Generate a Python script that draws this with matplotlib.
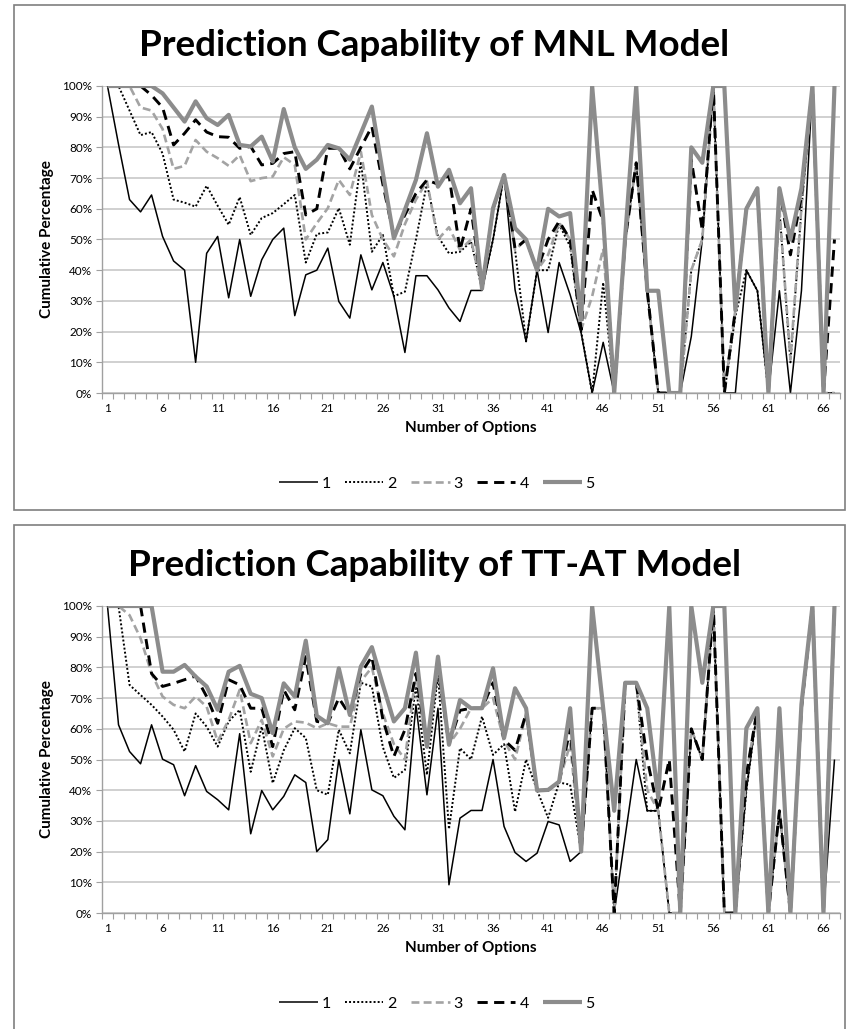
import matplotlib
matplotlib.use('Agg')
import matplotlib.pyplot as plt
from matplotlib.patches import Rectangle
from matplotlib.ticker import FixedLocator, FuncFormatter
import numpy as np

plt.rcParams['font.family'] = ['Lato', 'DejaVu Sans']

options = list(range(1, 68))
series_names = ['1', '2', '3', '4', '5']

# cumulative percentage of correct predictions within the top-k options (MNL)
mnl_1 = [100, 81, 63, 59, 64.5, 51, 43, 40, 10, 45.5, 51, 31, 50, 31.5, 43.4, 50, 53.7,
         25.2, 38.5, 40, 47.2, 29.8, 24.4, 45, 33.6, 42.5, 31.5, 13.2, 38.2, 38.2, 33.6, 27.7, 23.3,
         33.4, 33.4, 50, 71, 33.6, 16.8, 40, 19.7, 42.5, 32, 19.5, 0, 16.5, 0, 50, 75,
         33.3, 0, 0, 0, 18.4, 50, 100, 0, 0, 40, 33.3, 0, 33.3, 0, 33.3, 100, 0, 0]
mnl_2 = [100, 100, 92, 84, 85, 78, 63, 62, 60.7, 67.5, 61, 54.8, 63.8, 51.5, 57, 58.6, 61.5,
         64.5, 42.5, 51.8, 52.3, 60.2, 48.3, 75.4, 46, 51.5, 31.5, 33, 50, 68.3, 51, 45.5, 46,
         49.3, 34, 50, 71, 46.6, 16.8, 40, 40, 55, 47.7, 20, 0, 36, 0, 50, 75,
         33.3, 0, 0, 0, 40, 50, 100, 0, 25, 40, 33.3, 0, 60, 10, 60, 100, 0, 0]
mnl_3 = [100, 100, 100, 93, 92, 86, 73, 74, 82.4, 78.6, 76.5, 74, 77.5, 69, 70, 70.5, 76.8,
         74.3, 50, 55.3, 60.2, 69.4, 64.5, 78.6, 58, 50, 44.5, 55, 63, 69, 50, 54, 46.6,
         50, 34, 60, 71, 46.6, 50, 40, 45, 55.5, 50, 20.6, 31.5, 47, 0, 50, 75,
         33.3, 0, 0, 0, 40, 50, 100, 0, 27, 60, 66.7, 0, 60, 11, 60.7, 100, 0, 0]
mnl_4 = [100, 100, 100, 100, 97, 93, 80.8, 84.6, 89, 85, 83.5, 83.3, 79.7, 80.3, 74.3, 74.8, 78,
         78.6, 58, 60, 79.7, 79.7, 73, 80, 86.8, 68, 51, 58, 65, 69.4, 68, 71, 46.6,
         60, 34, 60, 71, 47, 50, 40, 50, 55.9, 50, 20.6, 66.2, 56, 0, 50, 75,
         33.3, 0, 0, 0, 76, 53, 100, 0, 27, 60, 66.7, 0, 66.7, 45, 64, 100, 0, 50]
mnl_5 = [100, 100, 100, 100, 100, 97.6, 93, 88.4, 95, 89.5, 87.3, 90.6, 80.8, 80.3, 83.5, 75.4, 92.5,
         80, 73, 76, 80.8, 79.7, 76, 84.6, 93.3, 71.6, 50.4, 59.7, 69.4, 84.6, 67.2, 72.7, 61.8,
         66.7, 34, 60.2, 71, 53.7, 50, 40, 60, 57.5, 58.6, 23.9, 100, 57, 0, 51, 100,
         33.3, 33.3, 0, 0, 80, 75, 100, 100, 27, 60, 66.7, 0, 66.7, 50, 66.7, 100, 0, 100]

# same measure for the TT-AT model
ttat_1 = [100, 61.3, 52.6, 48.6, 61.3, 50.1, 48.3, 38.2, 48, 39.6, 36.9, 33.6, 58.4, 25.8, 39.9, 33.6, 38,
          45, 42.5, 20, 23.9, 49.9, 32.3, 59.7, 40.1, 38.2, 31.5, 27.1, 67.8, 38.5, 66.7, 9.2, 30.9,
          33.4, 33.4, 50, 28.2, 19.7, 16.8, 19.5, 29.8, 28.7, 16.8, 20, 66.7, 66.7, 0, 25, 50,
          33.3, 33.3, 0, 0, 59.7, 50, 100, 0, 0, 40, 66.7, 0, 33.3, 0, 66.7, 100, 0, 50]
ttat_2 = [100, 100, 74.3, 71, 67.8, 64, 59.7, 52.6, 65, 60.7, 54.2, 62.4, 66.2, 46, 60.7, 42.3, 53,
          60.2, 57, 40, 38.5, 59.7, 52, 75, 73.8, 54, 44, 46.6, 73.8, 45, 78, 27.3, 53.7,
          50, 64, 51.5, 55, 33, 50, 40, 31, 42.5, 41.8, 20, 66.7, 66.7, 0, 75, 75,
          33.3, 33.3, 0, 0, 60, 50, 100, 0, 0, 40, 66.7, 0, 33.3, 0, 66.7, 100, 0, 100]
ttat_3 = [100, 100, 97, 89.5, 78, 70.5, 67.8, 66.7, 70.5, 67.2, 55.9, 62.9, 72.7, 55.3, 62.9, 51, 60,
          62.4, 62, 60.2, 61.8, 60.7, 60.7, 75.5, 80, 65, 55, 50, 78, 54, 80, 55, 60,
          66.7, 66.7, 70, 56, 50, 65, 40, 40, 42.8, 55, 20, 66.7, 66.7, 0, 75, 75,
          40, 33.3, 0, 0, 60, 50, 100, 0, 0, 45, 66.7, 0, 33.3, 0, 66.7, 100, 0, 100]
ttat_4 = [100, 100, 100, 100, 78, 73.8, 74.8, 76, 77.2, 70.5, 61.8, 76, 74.3, 66.7, 66.7, 54.2, 72.7,
          66.2, 83.5, 62.4, 61.8, 70, 64.5, 78, 83.5, 63, 51, 59.7, 78, 54.2, 80, 55, 66,
          66.7, 66.7, 75, 56.4, 53, 65, 40, 40, 42.8, 60, 20, 66.7, 66.7, 0, 75, 75,
          50, 33.3, 50, 0, 60, 50, 100, 0, 0, 45, 66.7, 0, 33.3, 0, 66.7, 100, 0, 100]
ttat_5 = [100, 100, 100, 100, 100, 78.6, 78.6, 80.8, 77, 73.8, 66.2, 78.6, 80.5, 71.4, 70, 58.6, 74.8,
          70.5, 88.7, 64.2, 61.8, 79.7, 64.5, 80.3, 86.6, 74.3, 62.4, 66.7, 84.8, 54.2, 83.5, 54.8, 69.4,
          66.7, 66.7, 79.7, 57, 73.2, 66.7, 39.9, 40.1, 42.8, 66.7, 20, 100, 66.7, 33.3, 75, 75,
          66.7, 37.5, 100, 0, 100, 75, 100, 100, 0, 60.2, 66.7, 0, 66.7, 0, 68, 100, 0, 100]

# line look for each cumulative level (1 = best option only ... 5 = top five)
styles = [
    dict(color='black', lw=1.1, ls='-'),
    dict(color='black', lw=1.4, ls=(0, (1, 1.1))),
    dict(color='#a3a3a3', lw=1.9, ls=(0, (3, 1.6))),
    dict(color='black', lw=2.1, ls=(0, (3.5, 2.2))),
    dict(color='#8c8c8c', lw=3.0, ls='-'),
]

W, H = 847, 1029
fig = plt.figure(figsize=(W / 100, H / 100), dpi=100)


def px_rect(x0, y0, x1, y1):
    # pixel box (top-left origin) -> figure fraction [left, bottom, width, height]
    return [x0 / W, 1 - y1 / H, (x1 - x0) / W, (y1 - y0) / H]


def draw_panel(top, title, data):
    # chart border
    fig.patches.append(Rectangle((14 / W, 1 - (top + 505) / H), 831 / W, 505 / H,
                                 transform=fig.transFigure, fill=False,
                                 edgecolor='#7f7f7f', lw=1.2))
    fig.text(434 / W, 1 - (top + 40) / H, title, ha='center', va='center',
             fontsize=26.5, fontweight='bold')

    ax = fig.add_axes(px_rect(102, top + 81, 840, top + 388))
    for vals, st, name in zip(data, styles, series_names):
        ax.plot(options, vals, label=name, solid_capstyle='butt',
                dash_capstyle='butt', **st)

    ax.set_xlim(0.5, 67.5)
    ax.set_ylim(0, 100)
    ax.yaxis.set_major_locator(FixedLocator(np.arange(0, 101, 10)))
    ax.yaxis.set_major_formatter(FuncFormatter(lambda v, p: '%d%%' % v))
    ax.grid(axis='y', color='#c4c4c4', lw=1.1)
    ax.set_axisbelow(True)

    ax.xaxis.set_major_locator(FixedLocator(range(1, 68, 5)))
    ax.xaxis.set_minor_locator(FixedLocator(np.arange(0.5, 68, 1)))
    ax.tick_params(axis='x', which='major', length=0, pad=7, labelsize=8.5)
    ax.tick_params(axis='x', which='minor', length=4, color='#a0a0a0', width=0.8)
    ax.tick_params(axis='y', length=4, color='#a0a0a0', width=0.8, labelsize=8.5, pad=3)

    for s in ['top', 'right']:
        ax.spines[s].set_visible(False)
    for s in ['left', 'bottom']:
        ax.spines[s].set_color('#a0a0a0')
        ax.spines[s].set_linewidth(1.0)

    ax.set_xlabel('Number of Options', fontsize=11, fontweight='bold', labelpad=5)
    ax.set_ylabel('Cumulative Percentage', fontsize=11, fontweight='bold', labelpad=6)

    fig.legend(*ax.get_legend_handles_labels(), loc='center',
               bbox_to_anchor=(437 / W, 1 - (top + 479) / H), ncol=5, frameon=False,
               fontsize=11.5, handlelength=2.4, handletextpad=0.25, columnspacing=0.9)
    return ax


draw_panel(5, 'Prediction Capability of MNL Model', [mnl_1, mnl_2, mnl_3, mnl_4, mnl_5])
draw_panel(525, 'Prediction Capability of TT-AT Model', [ttat_1, ttat_2, ttat_3, ttat_4, ttat_5])

fig.savefig('out.png', dpi=100, facecolor='white')
